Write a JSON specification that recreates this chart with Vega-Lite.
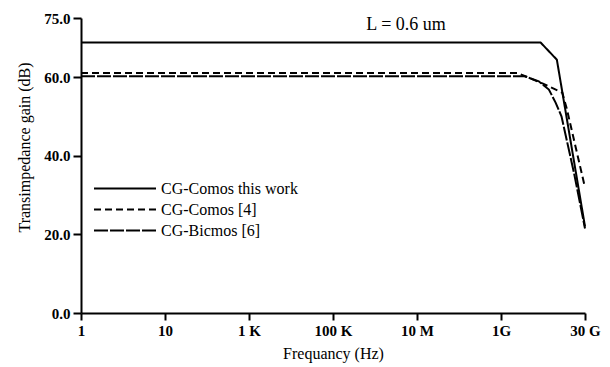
{
  "$schema": "https://vega.github.io/schema/vega-lite/v6.json",
  "width": 504,
  "height": 295,
  "autosize": "none",
  "padding": {"left": 81, "top": 18, "right": 25, "bottom": 54},
  "background": "white",
  "config": {
    "view": {"stroke": null},
    "font": "Liberation Serif",
    "axis": {"grid": false, "domainColor": "black", "domainWidth": 2, "tickColor": "black", "tickWidth": 2, "labelColor": "black", "titleColor": "black", "labelFont": "Liberation Serif", "titleFont": "Liberation Serif", "labelFontSize": 15, "labelFontWeight": "bold", "titleFontSize": 16, "titleFontWeight": "normal"}
  },
  "datasets": {
    "curves": [
      {"f": 0, "gain": 68.8, "series": "CG-Comos this work"},
      {"f": 5.47, "gain": 68.8, "series": "CG-Comos this work"},
      {"f": 5.665, "gain": 64.4, "series": "CG-Comos this work"},
      {"f": 6.0, "gain": 22.0, "series": "CG-Comos this work"},
      {"f": 0, "gain": 61.0, "series": "CG-Comos [4]"},
      {"f": 5.2, "gain": 61.0, "series": "CG-Comos [4]"},
      {"f": 5.5, "gain": 58.3, "series": "CG-Comos [4]"},
      {"f": 5.73, "gain": 56.0, "series": "CG-Comos [4]"},
      {"f": 5.78, "gain": 52.2, "series": "CG-Comos [4]"},
      {"f": 6.0, "gain": 31.9, "series": "CG-Comos [4]"},
      {"f": 0, "gain": 60.2, "series": "CG-Bicmos [6]"},
      {"f": 5.28, "gain": 60.2, "series": "CG-Bicmos [6]"},
      {"f": 5.45, "gain": 58.9, "series": "CG-Bicmos [6]"},
      {"f": 5.57, "gain": 56.8, "series": "CG-Bicmos [6]"},
      {"f": 5.65, "gain": 53.5, "series": "CG-Bicmos [6]"},
      {"f": 5.72, "gain": 50.0, "series": "CG-Bicmos [6]"},
      {"f": 5.87, "gain": 35.5, "series": "CG-Bicmos [6]"},
      {"f": 6.0, "gain": 21.5, "series": "CG-Bicmos [6]"}
    ],
    "note": [{"f": 3.87, "gain": 73.1, "label": "L = 0.6 um"}]
  },
  "layer": [
    {
      "data": {"name": "curves"},
      "mark": {"type": "line", "color": "black", "strokeWidth": 2, "clip": false},
      "encoding": {
        "x": {"field": "f", "type": "quantitative", "scale": {"domain": [0, 6], "nice": false, "zero": false},
          "axis": {"values": [0, 1, 2, 3, 4, 5, 6], "labelExpr": "['1','10','1 K','100 K','10 M','1G','30 G'][datum.value]", "tickSize": 7, "labelPadding": 3, "title": "Frequancy (Hz)", "titleY": 40, "titleBaseline": "middle", "labelFlush": false, "labelOverlap": false}},
        "y": {"field": "gain", "type": "quantitative", "scale": {"domain": [0, 75], "nice": false},
          "axis": {"values": [0, 20, 40, 60, 75], "format": ".1f", "tickSize": 8, "labelPadding": 3, "title": "Transimpedance gain (dB)", "titleX": -57, "titleY": 129, "titleBaseline": "middle", "labelFlush": false, "labelOverlap": false}},
        "strokeDash": {"field": "series", "type": "nominal",
          "scale": {"domain": ["CG-Comos this work", "CG-Comos [4]", "CG-Bicmos [6]"], "range": [[1, 0], [7, 4], [14, 2]]},
          "legend": {"title": null, "orient": "none", "legendX": 12, "legendY": 160, "symbolType": "stroke", "symbolSize": 3844, "symbolStrokeWidth": 2, "symbolStrokeColor": "black", "clipHeight": 21, "rowPadding": 0, "labelOffset": 4, "labelFont": "Liberation Serif", "labelFontSize": 16, "labelColor": "black", "padding": 0, "labelLimit": 300}}
      }
    },
    {
      "data": {"name": "note"},
      "mark": {"type": "text", "font": "Liberation Serif", "fontSize": 18, "color": "black", "baseline": "middle", "align": "center"},
      "encoding": {
        "x": {"field": "f", "type": "quantitative"},
        "y": {"field": "gain", "type": "quantitative"},
        "text": {"field": "label"}
      }
    }
  ]
}
